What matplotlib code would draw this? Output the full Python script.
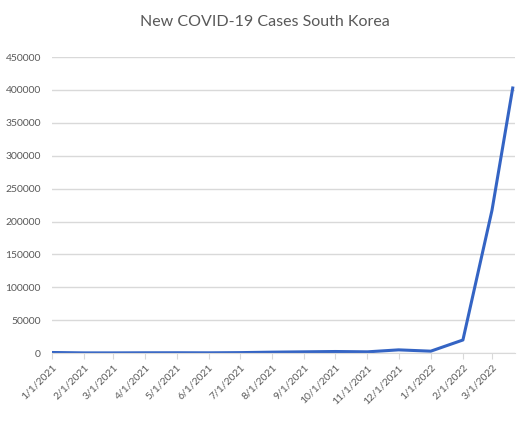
import matplotlib
matplotlib.use("Agg")
import matplotlib.pyplot as plt
import matplotlib.dates as mdates
import numpy as np
from datetime import datetime

# datos (casos nuevos)
fechas = ["2021-01-01", "2021-02-01", "2021-03-01", "2021-04-01", "2021-05-01",
          "2021-06-01", "2021-07-01", "2021-08-01", "2021-09-01", "2021-10-01",
          "2021-11-01", "2021-12-01", "2022-01-01", "2022-02-01", "2022-03-01",
          "2022-03-21"]
casos = [1000, 400, 400, 550, 600, 500, 800, 1500, 2000, 2500,
         2000, 5000, 3000, 20000, 217000, 403000]
etiquetas_x = ["1/1/2021", "2/1/2021", "3/1/2021", "4/1/2021", "5/1/2021",
               "6/1/2021", "7/1/2021", "8/1/2021", "9/1/2021", "10/1/2021",
               "11/1/2021", "12/1/2021", "1/1/2022", "2/1/2022", "3/1/2022"]
ticks_y = [0, 50000, 100000, 150000, 200000, 250000, 300000, 350000, 400000, 450000]

plt.rcParams['font.family'] = ['Lato', 'DejaVu Sans']

fechas_dt = [datetime.strptime(f, "%Y-%m-%d") for f in fechas]
ticks_x = [datetime.strptime(e, "%m/%d/%Y") for e in etiquetas_x]

fig = plt.figure(figsize=(5.2, 4.26), dpi=100)
ax = fig.add_axes([0.1, 0.171, 0.89, 0.695])

ax.plot(fechas_dt, casos, color="#3464C4", linewidth=2.2, solid_joinstyle='round')

ax.set_ylim(0, 450000)
ax.set_yticks(ticks_y)
ax.set_yticklabels([str(v) for v in ticks_y], fontsize=7.5, color="#595959")
ax.set_xlim(datetime(2021, 1, 1), datetime(2022, 3, 23))
ax.set_xticks(ticks_x)
ax.set_xticklabels(etiquetas_x, rotation=45, ha='right', rotation_mode='anchor',
                   fontsize=7.5, color="#595959")

ax.grid(axis='y', color="#D9D9D9", linewidth=1)
ax.set_axisbelow(True)
for lado in ['top', 'right', 'left']:
    ax.spines[lado].set_visible(False)
ax.spines['bottom'].set_color("#D9D9D9")
ax.tick_params(axis='y', length=0, pad=8)
ax.tick_params(axis='x', length=4, color="#D9D9D9", pad=3)

fig.suptitle("New COVID-19 Cases South Korea", x=0.51, y=0.965, fontsize=11.5, color="#595959")

plt.savefig("out.png", dpi=100)
